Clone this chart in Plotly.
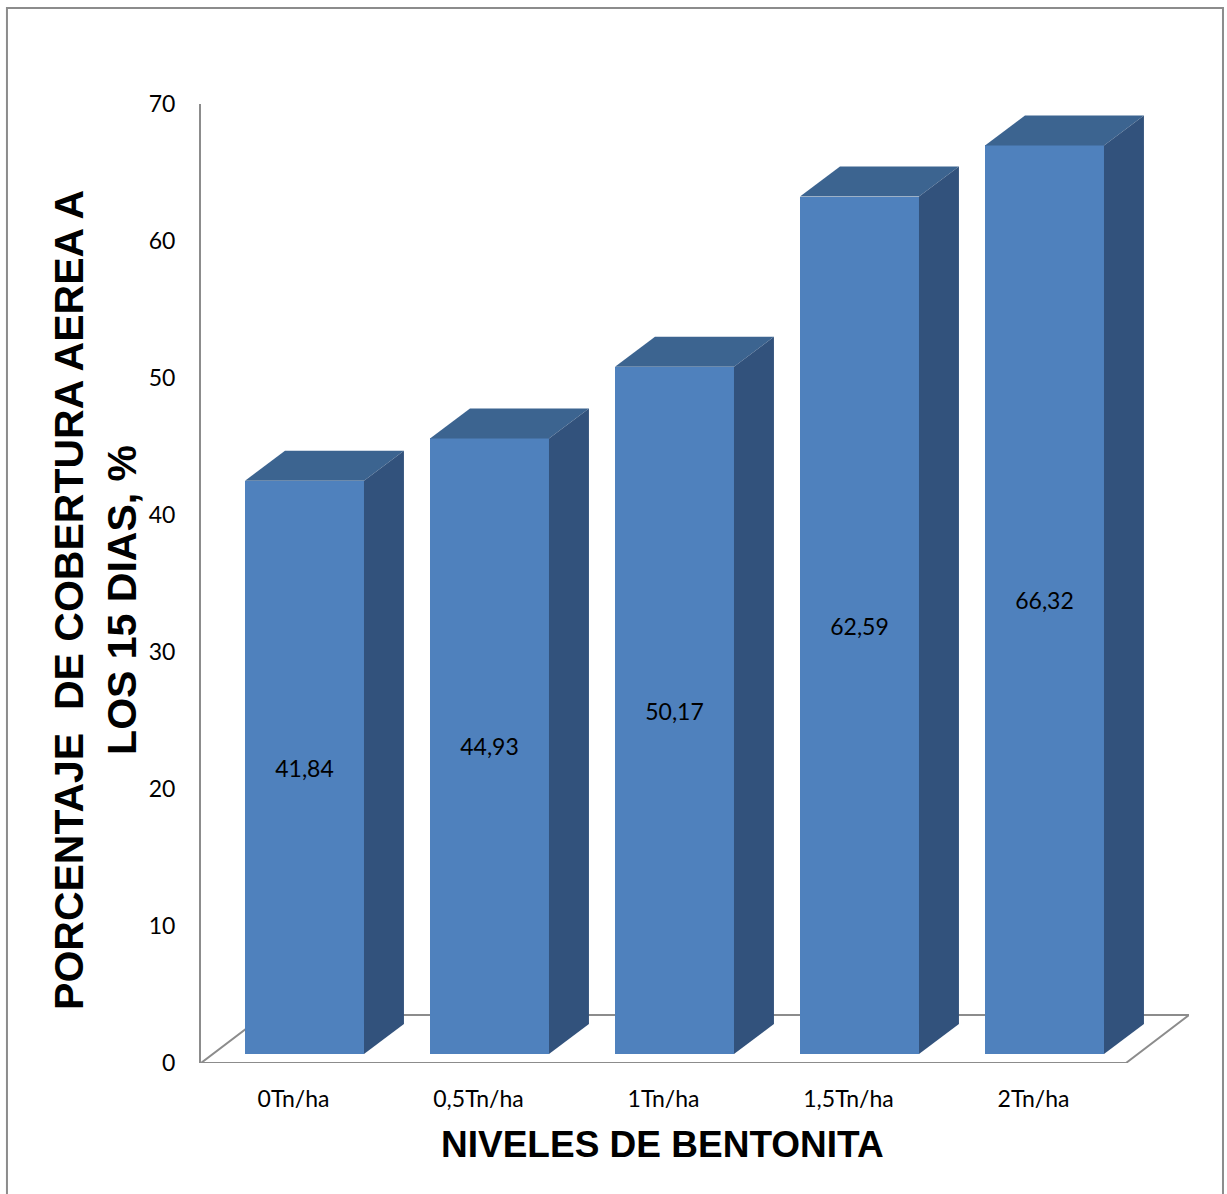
import plotly.graph_objects as go

# Data
categories = ["0Tn/ha", "0,5Tn/ha", "1Tn/ha", "1,5Tn/ha", "2Tn/ha"]
values = [41.84, 44.93, 50.17, 62.59, 66.32]
y_ticks = [0, 10, 20, 30, 40, 50, 60, 70]

# Pseudo-3D geometry (axis units)
FLOOR_DX = 0.3405   # floor depth, x units (categories)
FLOOR_DY = 3.50     # floor depth, y units
BAR_X_SHIFT = 0.0595  # bar front face shift into the floor
BAR_BASE = 0.657      # bar front base height above the floor front edge
BAR_W = 0.643         # bar width
SIDE_DX = 0.216       # bar depth, x
SIDE_DY = 2.19        # bar depth, y

FRONT = "#4F81BD"
TOP = "#3C6490"
SIDE = "#32527C"
GRID_GRAY = "#8C8C8C"

FONT = "Lato"

fig = go.Figure()

n = len(categories)
xs = list(range(n))
centers = [x + BAR_X_SHIFT for x in xs]

# front faces
fig.add_trace(go.Bar(
    x=centers, y=values, base=[BAR_BASE] * n, width=BAR_W,
    marker=dict(color=FRONT, line=dict(width=0)),
    texttemplate="%{y:.2f}", textposition="inside", insidetextanchor="middle",
    textfont=dict(family=FONT, size=23, color="#000000"),
    showlegend=False, hoverinfo="skip",
))

# top and side faces
for c, v in zip(centers, values):
    x0, x1 = c - BAR_W / 2, c + BAR_W / 2
    yb, yt = BAR_BASE, BAR_BASE + v
    fig.add_trace(go.Scatter(
        x=[x0, x1, x1 + SIDE_DX, x0 + SIDE_DX, x0],
        y=[yt, yt, yt + SIDE_DY, yt + SIDE_DY, yt],
        fill="toself", fillcolor=TOP, mode="lines", line=dict(width=0),
        showlegend=False, hoverinfo="skip",
    ))
    fig.add_trace(go.Scatter(
        x=[x1, x1 + SIDE_DX, x1 + SIDE_DX, x1, x1],
        y=[yb, yb + SIDE_DY, yt + SIDE_DY, yt, yb],
        fill="toself", fillcolor=SIDE, mode="lines", line=dict(width=0),
        showlegend=False, hoverinfo="skip",
    ))

x_lo, x_hi = -0.5, n - 0.5

# floor
fig.add_shape(
    type="path", layer="below", xref="x", yref="y",
    path=(f"M {x_lo},0 L {x_hi},0 L {x_hi + FLOOR_DX},{FLOOR_DY} "
          f"L {x_lo + FLOOR_DX},{FLOOR_DY} Z"),
    fillcolor="white", line=dict(color=GRID_GRAY, width=2),
)

# outer frame
fig.add_shape(
    type="rect", xref="paper", yref="paper",
    x0=-0.1964, x1=1.0344, y0=-0.15, y1=1.1001,
    line=dict(color=GRID_GRAY, width=2), fillcolor="rgba(0,0,0,0)",
)

fig.update_layout(
    width=1227, height=1194,
    margin=dict(l=201, r=38, t=104, b=131),
    paper_bgcolor="white", plot_bgcolor="white",
    separators=",.",
    font=dict(family=FONT, size=23, color="#000000"),
    bargap=0,
    xaxis=dict(
        range=[x_lo, x_hi + FLOOR_DX], tickmode="array", tickvals=xs, ticktext=categories,
        showgrid=False, zeroline=False, showline=False, ticks="",
        ticklabelstandoff=20, tickfont=dict(family=FONT, size=23, color="#000000"),
    ),
    yaxis=dict(
        range=[0, 70], tickmode="array", tickvals=y_ticks,
        showgrid=False, zeroline=False, showline=True, linecolor=GRID_GRAY, linewidth=2,
        ticks="", ticklabelstandoff=19, tickfont=dict(family=FONT, size=23, color="#000000"),
    ),
    annotations=[
        dict(text="<b>NIVELES DE BENTONITA</b>", xref="paper", yref="paper",
             x=0.4676, y=-0.0845, xanchor="center", yanchor="middle", showarrow=False,
             font=dict(family="Liberation Sans", size=37, color="#000000")),
        dict(text="<b>PORCENTAJE&nbsp; DE COBERTURA AEREA A<br>LOS 15 DIAS, %</b>",
             xref="paper", yref="paper", x=-0.1063, y=0.4828, textangle=-90,
             xanchor="center", yanchor="middle", showarrow=False, align="center",
             font=dict(family="Liberation Sans", size=41, color="#000000")),
    ],
)

fig.write_html("out.html")
